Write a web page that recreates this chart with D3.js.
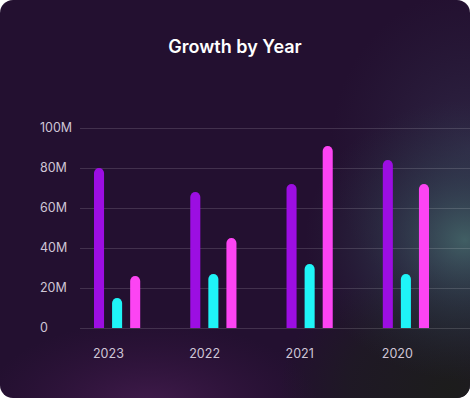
<!DOCTYPE html>
<html>
<head>
<meta charset="utf-8">
<script src="https://cdn.jsdelivr.net/npm/d3@7"></script>
<style>
  html, body { margin: 0; padding: 0; background: #ffffff; }
  svg { display: block; font-family: Inter, "Noto Sans", sans-serif; }
</style>
</head>
<body>
<div id="chart"></div>
<script>
const years = ['2023', '2022', '2021', '2020'];
const seriesNames = ['a', 'b', 'c'];
const seriesA = [80, 68, 72, 84];
const seriesB = [15, 27, 32, 27];
const seriesC = [26, 45, 91, 72];
const yTicks = [0, 20, 40, 60, 80, 100];
const colors = ['#9c0ee2', '#1ff4f8', '#fc44f3'];

const width = 470;
const height = 398;

const svg = d3.select('#chart')
  .append('svg')
  .attr('width', width)
  .attr('height', height);

const defs = svg.append('defs');

// soft glows on the card
function glow(id, stops) {
  const g = defs.append('radialGradient').attr('id', id);
  stops.forEach(s => g.append('stop').attr('offset', s[0]).attr('stop-color', s[1]).attr('stop-opacity', s[2]));
}
glow('teal', [[0, '#47706f', 0.8], [0.45, '#36505a', 0.45], [1, '#2a3545', 0]]);
glow('plum', [[0, '#4a1f55', 0.8], [1, '#3a1545', 0]]);
glow('dark', [[0, '#1c1d1b', 0.95], [0.6, '#1c1e1e', 0.6], [1, '#1c1e1e', 0]]);
glow('blue', [[0, '#363452', 0.6], [1, '#2e2a45', 0]]);

defs.append('clipPath').attr('id', 'card')
  .append('rect').attr('width', width).attr('height', height).attr('rx', 13);

const card = svg.append('g').attr('clip-path', 'url(#card)');
card.append('rect').attr('width', width).attr('height', height).attr('fill', '#231030');
card.append('ellipse').attr('cx', 470).attr('cy', 150).attr('rx', 140).attr('ry', 160).attr('fill', 'url(#blue)');
card.append('ellipse').attr('cx', 150).attr('cy', 410).attr('rx', 170).attr('ry', 90).attr('fill', 'url(#plum)');
card.append('ellipse').attr('cx', 450).attr('cy', 390).attr('rx', 170).attr('ry', 130).attr('fill', 'url(#dark)');
card.append('ellipse').attr('cx', 465).attr('cy', 240).attr('rx', 160).attr('ry', 140).attr('fill', 'url(#teal)');

svg.append('text')
  .attr('x', width / 2)
  .attr('y', 53)
  .attr('text-anchor', 'middle')
  .attr('fill', '#ffffff')
  .attr('font-size', 18)
  .attr('font-weight', 600)
  .text('Growth by Year');

const y = d3.scaleLinear().domain([0, 100]).range([328, 128]);
const x0 = d3.scaleBand().domain(years).range([94, 429]).paddingInner(0.52).paddingOuter(0);
const x1 = d3.scaleBand().domain(seriesNames).range([0, x0.bandwidth()]).paddingInner(0.444).paddingOuter(0);

// grid
svg.append('g').selectAll('line').data(yTicks).join('line')
  .attr('x1', 80).attr('x2', width)
  .attr('y1', d => Math.round(y(d)) + 0.5).attr('y2', d => Math.round(y(d)) + 0.5)
  .attr('stroke', '#ffffff').attr('stroke-opacity', 0.14);

svg.append('g').selectAll('text').data(yTicks).join('text')
  .attr('x', 40)
  .attr('y', d => y(d))
  .attr('dy', '0.35em')
  .attr('fill', '#cfc6d6')
  .attr('font-size', 12.5)
  .text(d => d === 0 ? '0' : d + 'M');

svg.append('g').selectAll('text').data(years).join('text')
  .attr('x', d => x0(d) - 1)
  .attr('y', 358)
  .attr('fill', '#cfc6d6')
  .attr('font-size', 12.5)
  .text(d => d);

const seriesValues = [seriesA, seriesB, seriesC];
const bars = [];
years.forEach((yr, i) => {
  seriesNames.forEach((s, j) => bars.push({year: yr, series: s, value: seriesValues[j][i], color: colors[j]}));
});

// bars with rounded top
function barPath(d) {
  const bx = x0(d.year) + x1(d.series);
  const w = x1.bandwidth();
  const r = w / 2;
  const top = y(d.value);
  const base = y(0);
  return `M${bx},${base} L${bx},${top + r} A${r},${r} 0 0 1 ${bx + w},${top + r} L${bx + w},${base} Z`;
}

svg.append('g').selectAll('path').data(bars).join('path')
  .attr('d', barPath)
  .attr('fill', d => d.color);
</script>
</body>
</html>
